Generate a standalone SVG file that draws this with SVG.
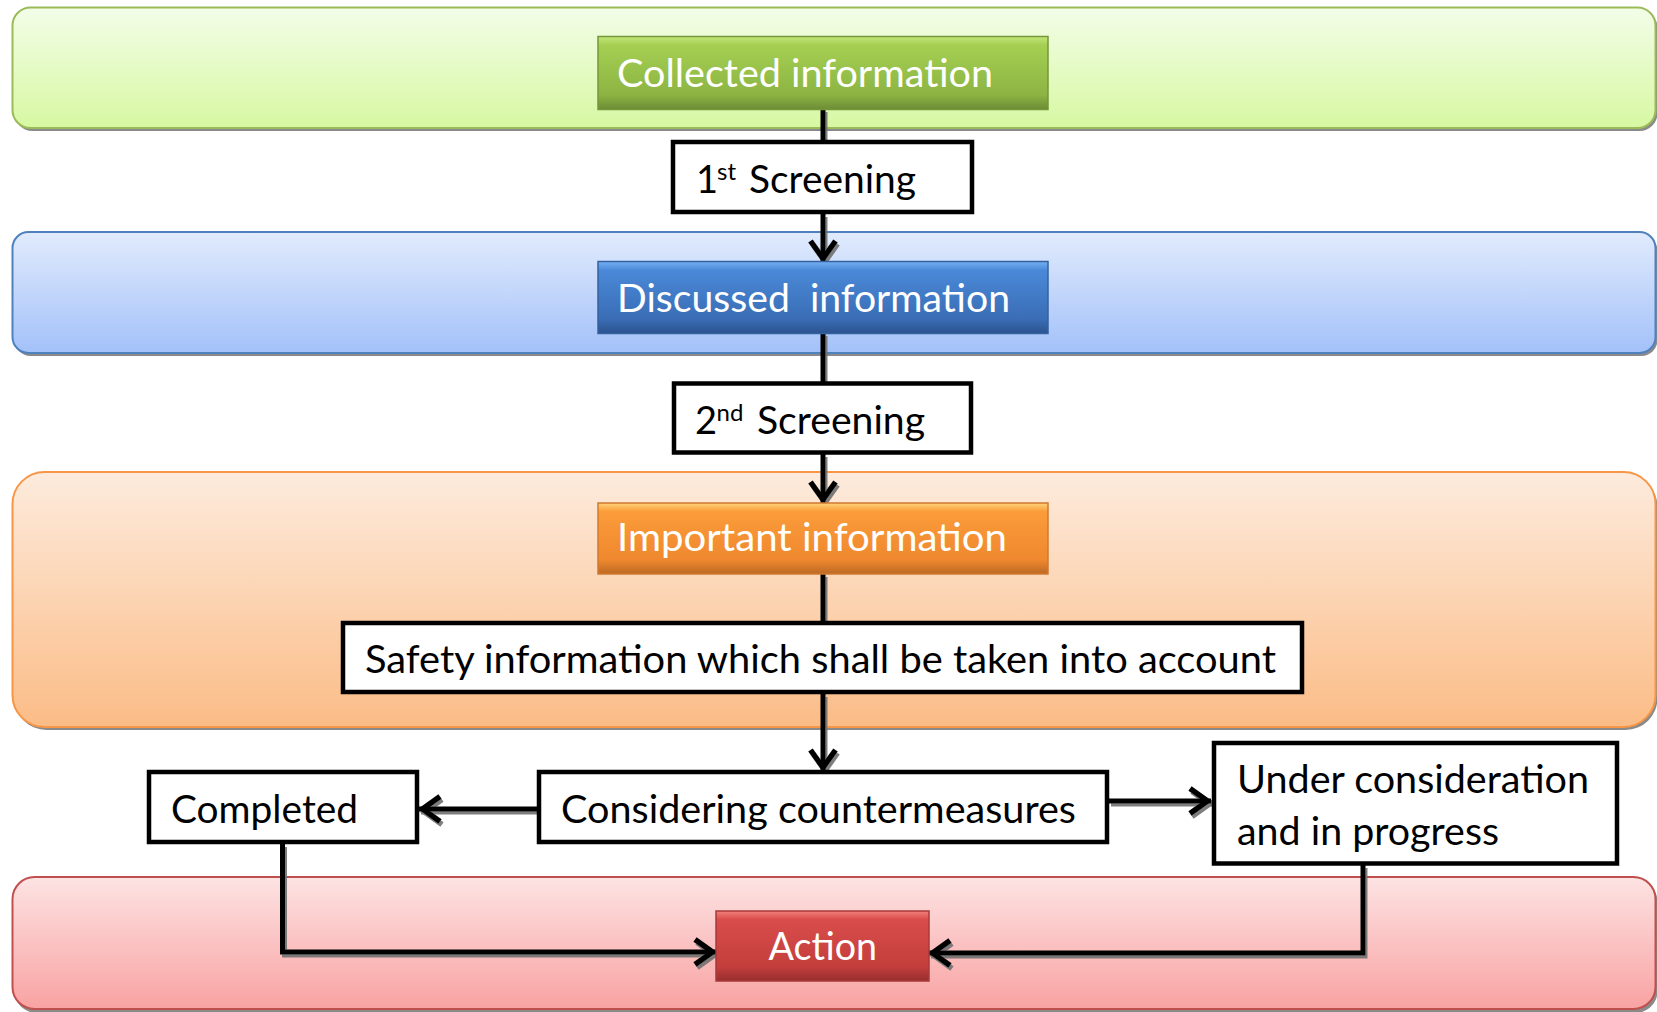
<svg xmlns="http://www.w3.org/2000/svg" width="1657" height="1012" viewBox="0 0 1657 1012">
<defs>
<style>
.t{font-family:Lato,"Liberation Sans",sans-serif;font-size:38px;fill:#000;}
.w{fill:#fff;}
.sup{font-family:Lato,"Liberation Sans",sans-serif;font-size:24px;fill:#000;}
.wb{fill:#fff;stroke:#000;stroke-width:4.5;}
.bshadow{fill:#8a8a8a;}
.c{fill:none;stroke:#000;stroke-width:5;stroke-linejoin:miter;}
</style>
<linearGradient id="gGreen" x1="0" y1="0" x2="0" y2="1"><stop offset="0" stop-color="#f3fde8"/><stop offset="1" stop-color="#d7f8a2"/></linearGradient>
<linearGradient id="gBlue" x1="0" y1="0" x2="0" y2="1"><stop offset="0" stop-color="#e1ebfd"/><stop offset="1" stop-color="#a3c1f9"/></linearGradient>
<linearGradient id="gOrange" x1="0" y1="0" x2="0" y2="1"><stop offset="0" stop-color="#fdebdd"/><stop offset="1" stop-color="#fbbc86"/></linearGradient>
<linearGradient id="gRed" x1="0" y1="0" x2="0" y2="1"><stop offset="0" stop-color="#fde3e3"/><stop offset="1" stop-color="#f9a2a2"/></linearGradient>
<linearGradient id="bGreen" x1="0" y1="0" x2="0" y2="1"><stop offset="0" stop-color="#c2e67a"/><stop offset="0.12" stop-color="#a4cf52"/><stop offset="0.8" stop-color="#8db443"/><stop offset="1" stop-color="#6c8c35"/></linearGradient>
<linearGradient id="bBlue" x1="0" y1="0" x2="0" y2="1"><stop offset="0" stop-color="#74b0f2"/><stop offset="0.12" stop-color="#4a89d8"/><stop offset="0.8" stop-color="#3a6db5"/><stop offset="1" stop-color="#2b538f"/></linearGradient>
<linearGradient id="bOrange" x1="0" y1="0" x2="0" y2="1"><stop offset="0" stop-color="#ffd27a"/><stop offset="0.12" stop-color="#fb9c3a"/><stop offset="0.8" stop-color="#ef882e"/><stop offset="1" stop-color="#bd6925"/></linearGradient>
<linearGradient id="bRed" x1="0" y1="0" x2="0" y2="1"><stop offset="0" stop-color="#f3807d"/><stop offset="0.12" stop-color="#d94d4b"/><stop offset="0.8" stop-color="#c33e3c"/><stop offset="1" stop-color="#962f2e"/></linearGradient>
<filter id="sh" x="-5%" y="-5%" width="110%" height="120%">
<feDropShadow dx="2" dy="3" stdDeviation="0.7" flood-color="#707070" flood-opacity="0.9"/>
</filter>
<marker id="arr" markerUnits="userSpaceOnUse" viewBox="-26 -16 30 32" refX="0" refY="0" markerWidth="30" markerHeight="32" orient="auto">
<path d="M-21,-12.5 L-3.5,0 L-21,12.5" fill="none" stroke="#000" stroke-width="5.5"/>
</marker>
</defs>
<rect width="1657" height="1012" fill="#fff"/>

<g id="bands">
<g id="band-collected">
<rect class="bshadow" x="14.5" y="10" width="1643" height="121" rx="18"/>
<rect x="12.5" y="7.5" width="1643" height="120.5" rx="18" fill="url(#gGreen)" stroke="#9bbb59" stroke-width="2"/>
</g>
<g id="band-discussed">
<rect class="bshadow" x="14.5" y="235" width="1643" height="121" rx="16"/>
<rect x="12.5" y="232" width="1643" height="121" rx="16" fill="url(#gBlue)" stroke="#4f81bd" stroke-width="2"/>
</g>
<g id="band-important">
<rect class="bshadow" x="14.5" y="475" width="1643" height="255" rx="32"/>
<rect x="12.5" y="472" width="1643" height="255" rx="32" fill="url(#gOrange)" stroke="#f79646" stroke-width="2"/>
</g>
<g id="band-action">
<rect class="bshadow" x="14.5" y="880" width="1643" height="133" rx="22"/>
<rect x="12.5" y="877" width="1643" height="132" rx="22" fill="url(#gRed)" stroke="#c0504d" stroke-width="2"/>
</g>
</g>

<g id="connectors" filter="url(#sh)">
<path class="c" d="M823,109 V142"/>
<path class="c" d="M823,214 V262" marker-end="url(#arr)"/>
<path class="c" d="M823,333 V383"/>
<path class="c" d="M823,454 V503" marker-end="url(#arr)"/>
<path class="c" d="M823,574 V623"/>
<path class="c" d="M823,694 V771" marker-end="url(#arr)"/>
<path class="c" d="M537,809 H419" marker-end="url(#arr)"/>
<path class="c" d="M1109,801 H1211" marker-end="url(#arr)"/>
<path class="c" d="M282.5,844 V952 H716" marker-end="url(#arr)"/>
<path class="c" d="M1363,865 V953 H929" marker-end="url(#arr)"/>
</g>

<g id="node-collected">
<rect x="598" y="36.5" width="450" height="73" fill="url(#bGreen)" stroke="#76963a" stroke-width="1.5"/>
<text class="t w" x="617" y="87" textLength="376" lengthAdjust="spacingAndGlyphs">Collected information</text>
</g>
<g id="node-screening1">
<rect class="wb" x="673" y="142" width="299" height="70"/>
<text class="t" x="696" y="193">1</text>
<text class="sup" x="717" y="180">st</text>
<text class="t" x="749" y="193" textLength="167" lengthAdjust="spacingAndGlyphs">Screening</text>
</g>
<g id="node-discussed">
<rect x="598" y="261.5" width="450" height="72" fill="url(#bBlue)" stroke="#35629f" stroke-width="1.5"/>
<text class="t w" x="617" y="311.5" textLength="393" lengthAdjust="spacingAndGlyphs" style="white-space:pre">Discussed  information</text>
</g>
<g id="node-screening2">
<rect class="wb" x="674" y="383.5" width="297" height="69"/>
<text class="t" x="695" y="434">2</text>
<text class="sup" x="716.5" y="421">nd</text>
<text class="t" x="757" y="434" textLength="168" lengthAdjust="spacingAndGlyphs">Screening</text>
</g>
<g id="node-important">
<rect x="598" y="503" width="450" height="71" fill="url(#bOrange)" stroke="#cf7a30" stroke-width="1.5"/>
<text class="t w" x="617" y="550.5" textLength="390" lengthAdjust="spacingAndGlyphs">Important information</text>
</g>
<g id="node-safety">
<rect class="wb" x="343" y="623" width="959" height="69"/>
<text class="t" x="365" y="672.5" textLength="911" lengthAdjust="spacingAndGlyphs">Safety information which shall be taken into account</text>
</g>
<g id="node-considering">
<rect class="wb" x="539" y="772" width="568" height="70"/>
<text class="t" x="561" y="823" textLength="515" lengthAdjust="spacingAndGlyphs">Considering countermeasures</text>
</g>
<g id="node-completed">
<rect class="wb" x="149" y="772" width="268" height="70"/>
<text class="t" x="171" y="823" textLength="187" lengthAdjust="spacingAndGlyphs">Completed</text>
</g>
<g id="node-under">
<rect class="wb" x="1214" y="743" width="403" height="120.5"/>
<text class="t" x="1237" y="793" textLength="352" lengthAdjust="spacingAndGlyphs">Under consideration</text>
<text class="t" x="1237" y="845" textLength="262" lengthAdjust="spacingAndGlyphs">and in progress</text>
</g>
<g id="node-action">
<rect x="716" y="911" width="213" height="70" fill="url(#bRed)" stroke="#a83a38" stroke-width="1.5"/>
<text class="t w" x="768.5" y="960" textLength="108.5" lengthAdjust="spacingAndGlyphs">Action</text>
</g>
</svg>
